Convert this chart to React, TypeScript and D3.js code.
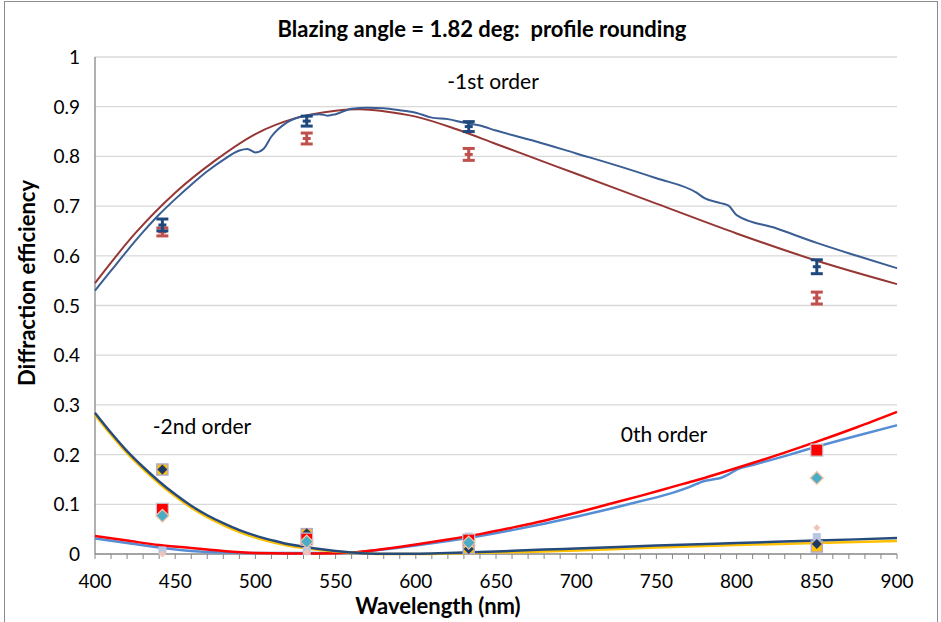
import React from 'react';
import * as d3 from 'd3';

// -1st order, simulated (blue, with resonance wiggles)
const wlBlue1 = [400, 410, 420, 430, 440, 450, 460, 470, 480, 490, 495, 500, 505, 510, 520, 530, 540, 545, 550, 560, 570, 580, 590, 600, 610, 620, 630, 640, 650, 675, 700, 725, 750, 775, 780, 790, 795, 800, 825, 850, 875, 900];
const effBlue1 = [0.53, 0.57, 0.61, 0.648, 0.683, 0.714, 0.743, 0.77, 0.793, 0.812, 0.815, 0.808, 0.815, 0.84, 0.869, 0.881, 0.885, 0.882, 0.885, 0.896, 0.898, 0.897, 0.893, 0.888, 0.878, 0.875, 0.868, 0.862, 0.852, 0.83, 0.806, 0.782, 0.756, 0.727, 0.716, 0.706, 0.701, 0.682, 0.655, 0.626, 0.6, 0.575];
// -1st order, simulated (brown, smooth)
const wlBrown1 = [400, 425, 450, 475, 500, 525, 550, 565, 580, 600, 625, 650, 675, 700, 750, 800, 850, 900];
const effBrown1 = [0.545, 0.645, 0.727, 0.792, 0.845, 0.877, 0.892, 0.895, 0.891, 0.88, 0.855, 0.825, 0.795, 0.765, 0.705, 0.645, 0.59, 0.543];

// -2nd order, simulated (navy + yellow)
const wlNeg2 = [400, 410, 420, 430, 440, 450, 460, 470, 480, 490, 500, 510, 520, 530, 540, 550, 560, 570, 580, 600, 620, 650, 680, 700, 750, 800, 850, 900];
const effNeg2Navy = [0.284, 0.244, 0.207, 0.175, 0.146, 0.12, 0.097, 0.078, 0.062, 0.048, 0.037, 0.028, 0.02, 0.015, 0.01, 0.006, 0.003, 0.001, 0.0005, 0.0005, 0.002, 0.005, 0.009, 0.011, 0.017, 0.022, 0.027, 0.032];
const effNeg2Yellow = [0.28, 0.24, 0.203, 0.171, 0.142, 0.116, 0.093, 0.074, 0.058, 0.044, 0.033, 0.024, 0.017, 0.012, 0.008, 0.005, 0.003, 0.001, 0, 0, 0.001, 0.003, 0.005, 0.007, 0.013, 0.018, 0.022, 0.026];

// 0th order, simulated (red + light blue)
const wlZero = [400, 420, 440, 460, 470, 480, 500, 520, 540, 560, 580, 600, 620, 640, 660, 680, 700, 720, 740, 760, 770, 780, 785, 790, 795, 800, 810, 830, 850, 875, 900];
const effZeroRed = [0.036, 0.027, 0.018, 0.012, 0.009, 0.006, 0.002, 0.001, 0.001, 0.003, 0.01, 0.019, 0.029, 0.04, 0.053, 0.067, 0.083, 0.1, 0.117, 0.135, 0.144, 0.153, 0.158, 0.163, 0.168, 0.173, 0.183, 0.204, 0.226, 0.255, 0.286];
const effZeroBlue = [0.031, 0.022, 0.013, 0.006, 0.004, 0.003, 0.002, 0.002, 0.002, 0.003, 0.009, 0.017, 0.026, 0.036, 0.048, 0.061, 0.075, 0.09, 0.106, 0.123, 0.134, 0.147, 0.15, 0.153, 0.16, 0.17, 0.179, 0.197, 0.216, 0.238, 0.259];

// measurements
const wlMeas = [442, 532, 633, 850];
const measNeg1A = [0.662, 0.871, 0.86, 0.578];
const errNeg1A = [0.012, 0.01, 0.01, 0.014];
const measNeg1B = [0.648, 0.836, 0.804, 0.515];
const errNeg1B = [0.008, 0.011, 0.012, 0.012];
const measNeg2Sq = [0.17, 0.04, 0.012, 0.015];
const measNeg2Dia = [0.17, 0.042, 0.01, 0.02];
const measZeroSq = [0.09, 0.03, 0.028, 0.209];
const measZeroDia = [0.077, 0.025, 0.023, 0.153];
const measOtherSq = [0.007, 0.006, 0.035, 0.034];
const measOtherDia = [0.0, 0.003, 0.032, 0.053];

const yTicks = [0, 0.1, 0.2, 0.3, 0.4, 0.5, 0.6, 0.7, 0.8, 0.9, 1];
const xTicks = [400, 450, 500, 550, 600, 650, 700, 750, 800, 850, 900];

const W = 941;
const H = 622;
const font = 'Lato, "Open Sans", sans-serif';

export default function App() {
  const x = d3.scaleLinear().domain([400, 900]).range([95, 897]);
  const y = d3.scaleLinear().domain([0, 1]).range([554, 57]);

  const mkLine = (xs: number[], ys: number[]) =>
    d3.line<number>().x((_, i) => x(xs[i])).y(d => y(d)).curve(d3.curveMonotoneX)(ys) || '';

  const minorTicks = d3.range(400, 901, 10);

  const diamond = (cx: number, cy: number, r: number) =>
    `M${cx},${cy - r}L${cx + r},${cy}L${cx},${cy + r}L${cx - r},${cy}Z`;

  const errBar = (xs: number[], vs: number[], es: number[], color: string, key: string) =>
    xs.map((w, i) => {
      const cx = x(w);
      const top = y(vs[i] + es[i]);
      const bot = y(vs[i] - es[i]);
      return (
        <g key={key + i} stroke={color} strokeWidth={3}>
          <line x1={cx} x2={cx} y1={top} y2={bot} />
          <line x1={cx - 6} x2={cx + 6} y1={top} y2={top} />
          <line x1={cx - 6} x2={cx + 6} y1={bot} y2={bot} />
          <line x1={cx - 4} x2={cx + 4} y1={y(vs[i])} y2={y(vs[i])} />
        </g>
      );
    });

  return (
    <div style={{ position: 'absolute', left: 0, top: 0 }}>
      <svg width={W} height={H} style={{ display: 'block', background: '#fff' }}>
        <rect x={4.5} y={1.5} width={933} height={640} fill="#fff" stroke="#8c8c8c" strokeWidth={1} />
        <text x={482} y={37} textAnchor="middle" fontFamily={font} fontWeight="bold" fontSize={22} fill="#000" style={{ whiteSpace: 'pre' }}>
          {'Blazing angle = 1.82 deg:  profile rounding'}
        </text>

        {yTicks.filter(t => t > 0).map(t => (
          <line key={'g' + t} x1={95} x2={897} y1={y(t)} y2={y(t)} stroke="#d9d9d9" strokeWidth={1.3} />
        ))}
        <line x1={95} x2={95} y1={57} y2={554} stroke="#868686" strokeWidth={1.3} />
        <line x1={95} x2={897} y1={554} y2={554} stroke="#868686" strokeWidth={1.3} />
        {minorTicks.map(t => (
          <line key={'m' + t} x1={x(t)} x2={x(t)} y1={554} y2={559} stroke="#868686" strokeWidth={1} />
        ))}

        {yTicks.map(t => (
          <text key={'yl' + t} x={80} y={y(t) + 7} textAnchor="end" fontFamily={font} fontSize={19} fill="#000">
            {String(t)}
          </text>
        ))}
        {xTicks.map(t => (
          <text key={'xl' + t} x={x(t)} y={588} textAnchor="middle" fontFamily={font} fontSize={19} fill="#000">
            {t}
          </text>
        ))}
        <text x={438} y={614} textAnchor="middle" fontFamily={font} fontWeight="bold" fontSize={22} fill="#000">
          Wavelength (nm)
        </text>
        <text transform="translate(35,283) rotate(-90)" textAnchor="middle" fontFamily={font} fontWeight="bold" fontSize={22} fill="#000">
          Diffraction efficiency
        </text>

        <text x={493} y={89} textAnchor="middle" fontFamily={font} fontSize={21} fill="#000">-1st order</text>
        <text x={202} y={434} textAnchor="middle" fontFamily={font} fontSize={21} fill="#000">-2nd order</text>
        <text x={664} y={442} textAnchor="middle" fontFamily={font} fontSize={21} fill="#000">0th order</text>

        <g fill="none" strokeLinejoin="round">
          <path d={mkLine(wlZero, effZeroBlue)} stroke="#558ed5" strokeWidth={2.5} />
          <path d={mkLine(wlZero, effZeroRed)} stroke="#ff0000" strokeWidth={2.5} />
          <path d={mkLine(wlNeg2, effNeg2Yellow)} stroke="#ffc000" strokeWidth={2.5} />
          <path d={mkLine(wlNeg2, effNeg2Navy)} stroke="#254a7c" strokeWidth={2.5} />
          <path d={mkLine(wlBrown1, effBrown1)} stroke="#953735" strokeWidth={2} />
          <path d={mkLine(wlBlue1, effBlue1)} stroke="#3a5e94" strokeWidth={2} />
        </g>

        {errBar(wlMeas, measNeg1B, errNeg1B, '#c0504d', 'eb')}
        {errBar(wlMeas, measNeg1A, errNeg1A, '#1f497d', 'ea')}

        {wlMeas.map((w, i) => (
          <g key={'lm' + i}>
            <rect x={x(w) - 4} y={y(measOtherSq[i]) - 4} width={8} height={8} fill="#b9c6e3" />
            <path d={diamond(x(w), y(measOtherDia[i]), 3.5)} fill="#f2c4b8" />
            <rect x={x(w) - 5.5} y={y(measNeg2Sq[i]) - 5.5} width={11} height={11} fill="#ffc000" stroke="#b3a9c9" strokeWidth={1.5} />
            <path d={diamond(x(w), y(measNeg2Dia[i]), 5)} fill="#1f3864" />
            <rect x={x(w) - 6} y={y(measZeroSq[i]) - 6} width={12} height={12} fill="#ff0000" stroke="#c8c8d0" strokeWidth={1.2} />
            <path d={diamond(x(w), y(measZeroDia[i]), 6.5)} fill="#4bacc6" stroke="#f6c7a8" strokeWidth={1.2} />
          </g>
        ))}
      </svg>
    </div>
  );
}
